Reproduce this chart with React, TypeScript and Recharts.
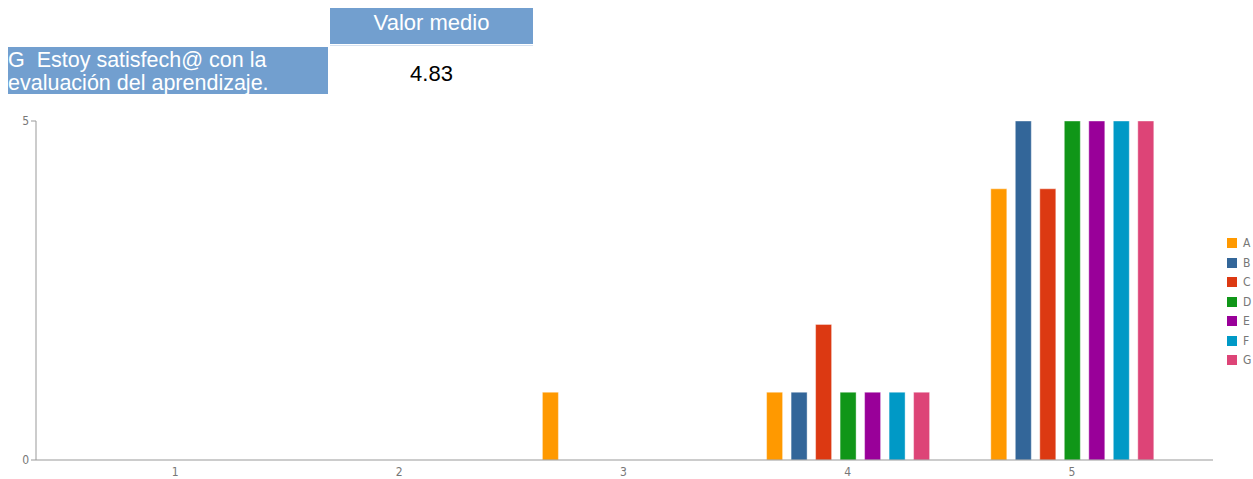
import { Bar, BarChart, Legend, XAxis, YAxis } from 'recharts';

const categories = ['1', '2', '3', '4', '5'];
const seriesNames = ['A', 'B', 'C', 'D', 'E', 'F', 'G'];
const seriesColors = ['#ff9900', '#336699', '#dc3912', '#109618', '#990099', '#0099c6', '#dd4477'];

const valuesA = [0, 0, 1, 1, 4];
const valuesB = [0, 0, 0, 1, 5];
const valuesC = [0, 0, 0, 2, 4];
const valuesD = [0, 0, 0, 1, 5];
const valuesE = [0, 0, 0, 1, 5];
const valuesF = [0, 0, 0, 1, 5];
const valuesG = [0, 0, 0, 1, 5];

const yTicks = [0, 5];

const questionLabel = 'G  Estoy satisfech@ con la evaluación del aprendizaje.';
const headerLabel = 'Valor medio';
const meanValue = '4.83';

const allValues = [valuesA, valuesB, valuesC, valuesD, valuesE, valuesF, valuesG];

const data = categories.map((c, i) => {
  const row: Record<string, string | number> = { cat: c };
  seriesNames.forEach((s, k) => {
    row[s] = allValues[k][i];
  });
  return row;
});

const axisColor = '#999';
const tickStyle = { fill: '#777', fontSize: 12, fontFamily: 'DejaVu Sans Condensed, DejaVu Sans, sans-serif' };

function LegendList() {
  return (
    <div style={{ fontFamily: 'DejaVu Sans Condensed, DejaVu Sans, sans-serif', fontSize: 12, color: '#777', whiteSpace: 'nowrap' }}>
      {seriesNames.map((s, k) => (
        <div key={s} style={{ height: 19.5, lineHeight: '19.5px' }}>
          <span style={{ width: 10, height: 10, background: seriesColors[k], display: 'inline-block', marginRight: 6, verticalAlign: -1 }} />
          {s}
        </div>
      ))}
    </div>
  );
}

export default function App() {
  // fixed so nothing gets clipped by the root box
  return (
    <div style={{ position: 'fixed', left: 0, top: 0, width: 1253, height: 479, background: '#fff', fontFamily: 'Liberation Sans, Arial, sans-serif' }}>
      <div style={{ position: 'absolute', left: 330, top: 8, width: 203, height: 36, background: '#729fcf', color: '#fff', fontSize: 22, textAlign: 'center', lineHeight: '30px' }}>
        {headerLabel}
      </div>
      <div style={{ position: 'absolute', left: 330, top: 45, width: 203, height: 1, background: '#d6e2f1' }} />
      <div style={{ position: 'absolute', left: 8, top: 47, width: 320, height: 47, background: '#729fcf', color: '#fff', fontSize: 21.5, lineHeight: '23px', paddingTop: 2, boxSizing: 'border-box', overflow: 'hidden', whiteSpace: 'pre-wrap' }}>
        {questionLabel}
      </div>
      <div style={{ position: 'absolute', left: 330, top: 62, width: 203, color: '#000', fontSize: 22, lineHeight: '24px', textAlign: 'center' }}>
        {meanValue}
      </div>
      <div style={{ position: 'absolute', left: 0, top: 0 }}>
        <BarChart width={1253} height={479} data={data} margin={{ top: 121, right: 40, bottom: 0, left: 6 }} barSize={16} barGap={8.5}>
          <XAxis
            dataKey="cat"
            height={19}
            padding={{ left: 27, right: 29 }}
            tickLine={false}
            axisLine={{ stroke: axisColor }}
            tick={tickStyle}
            tickMargin={1}
          />
          <YAxis
            domain={[0, 5]}
            ticks={yTicks}
            width={30}
            axisLine={{ stroke: axisColor }}
            tickLine={{ stroke: axisColor }}
            tickSize={5}
            tick={tickStyle}
            interval={0}
          />
          <Legend
            layout="horizontal"
            verticalAlign="middle"
            align="center"
            content={() => <LegendList />}
            wrapperStyle={{ left: 1227, top: 234, width: 26 }}
          />
          {seriesNames.map((s, k) => (
            <Bar key={s} dataKey={s} fill={seriesColors[k]} stroke="#fff" strokeOpacity={0.4} isAnimationActive={false} />
          ))}
        </BarChart>
      </div>
    </div>
  );
}
